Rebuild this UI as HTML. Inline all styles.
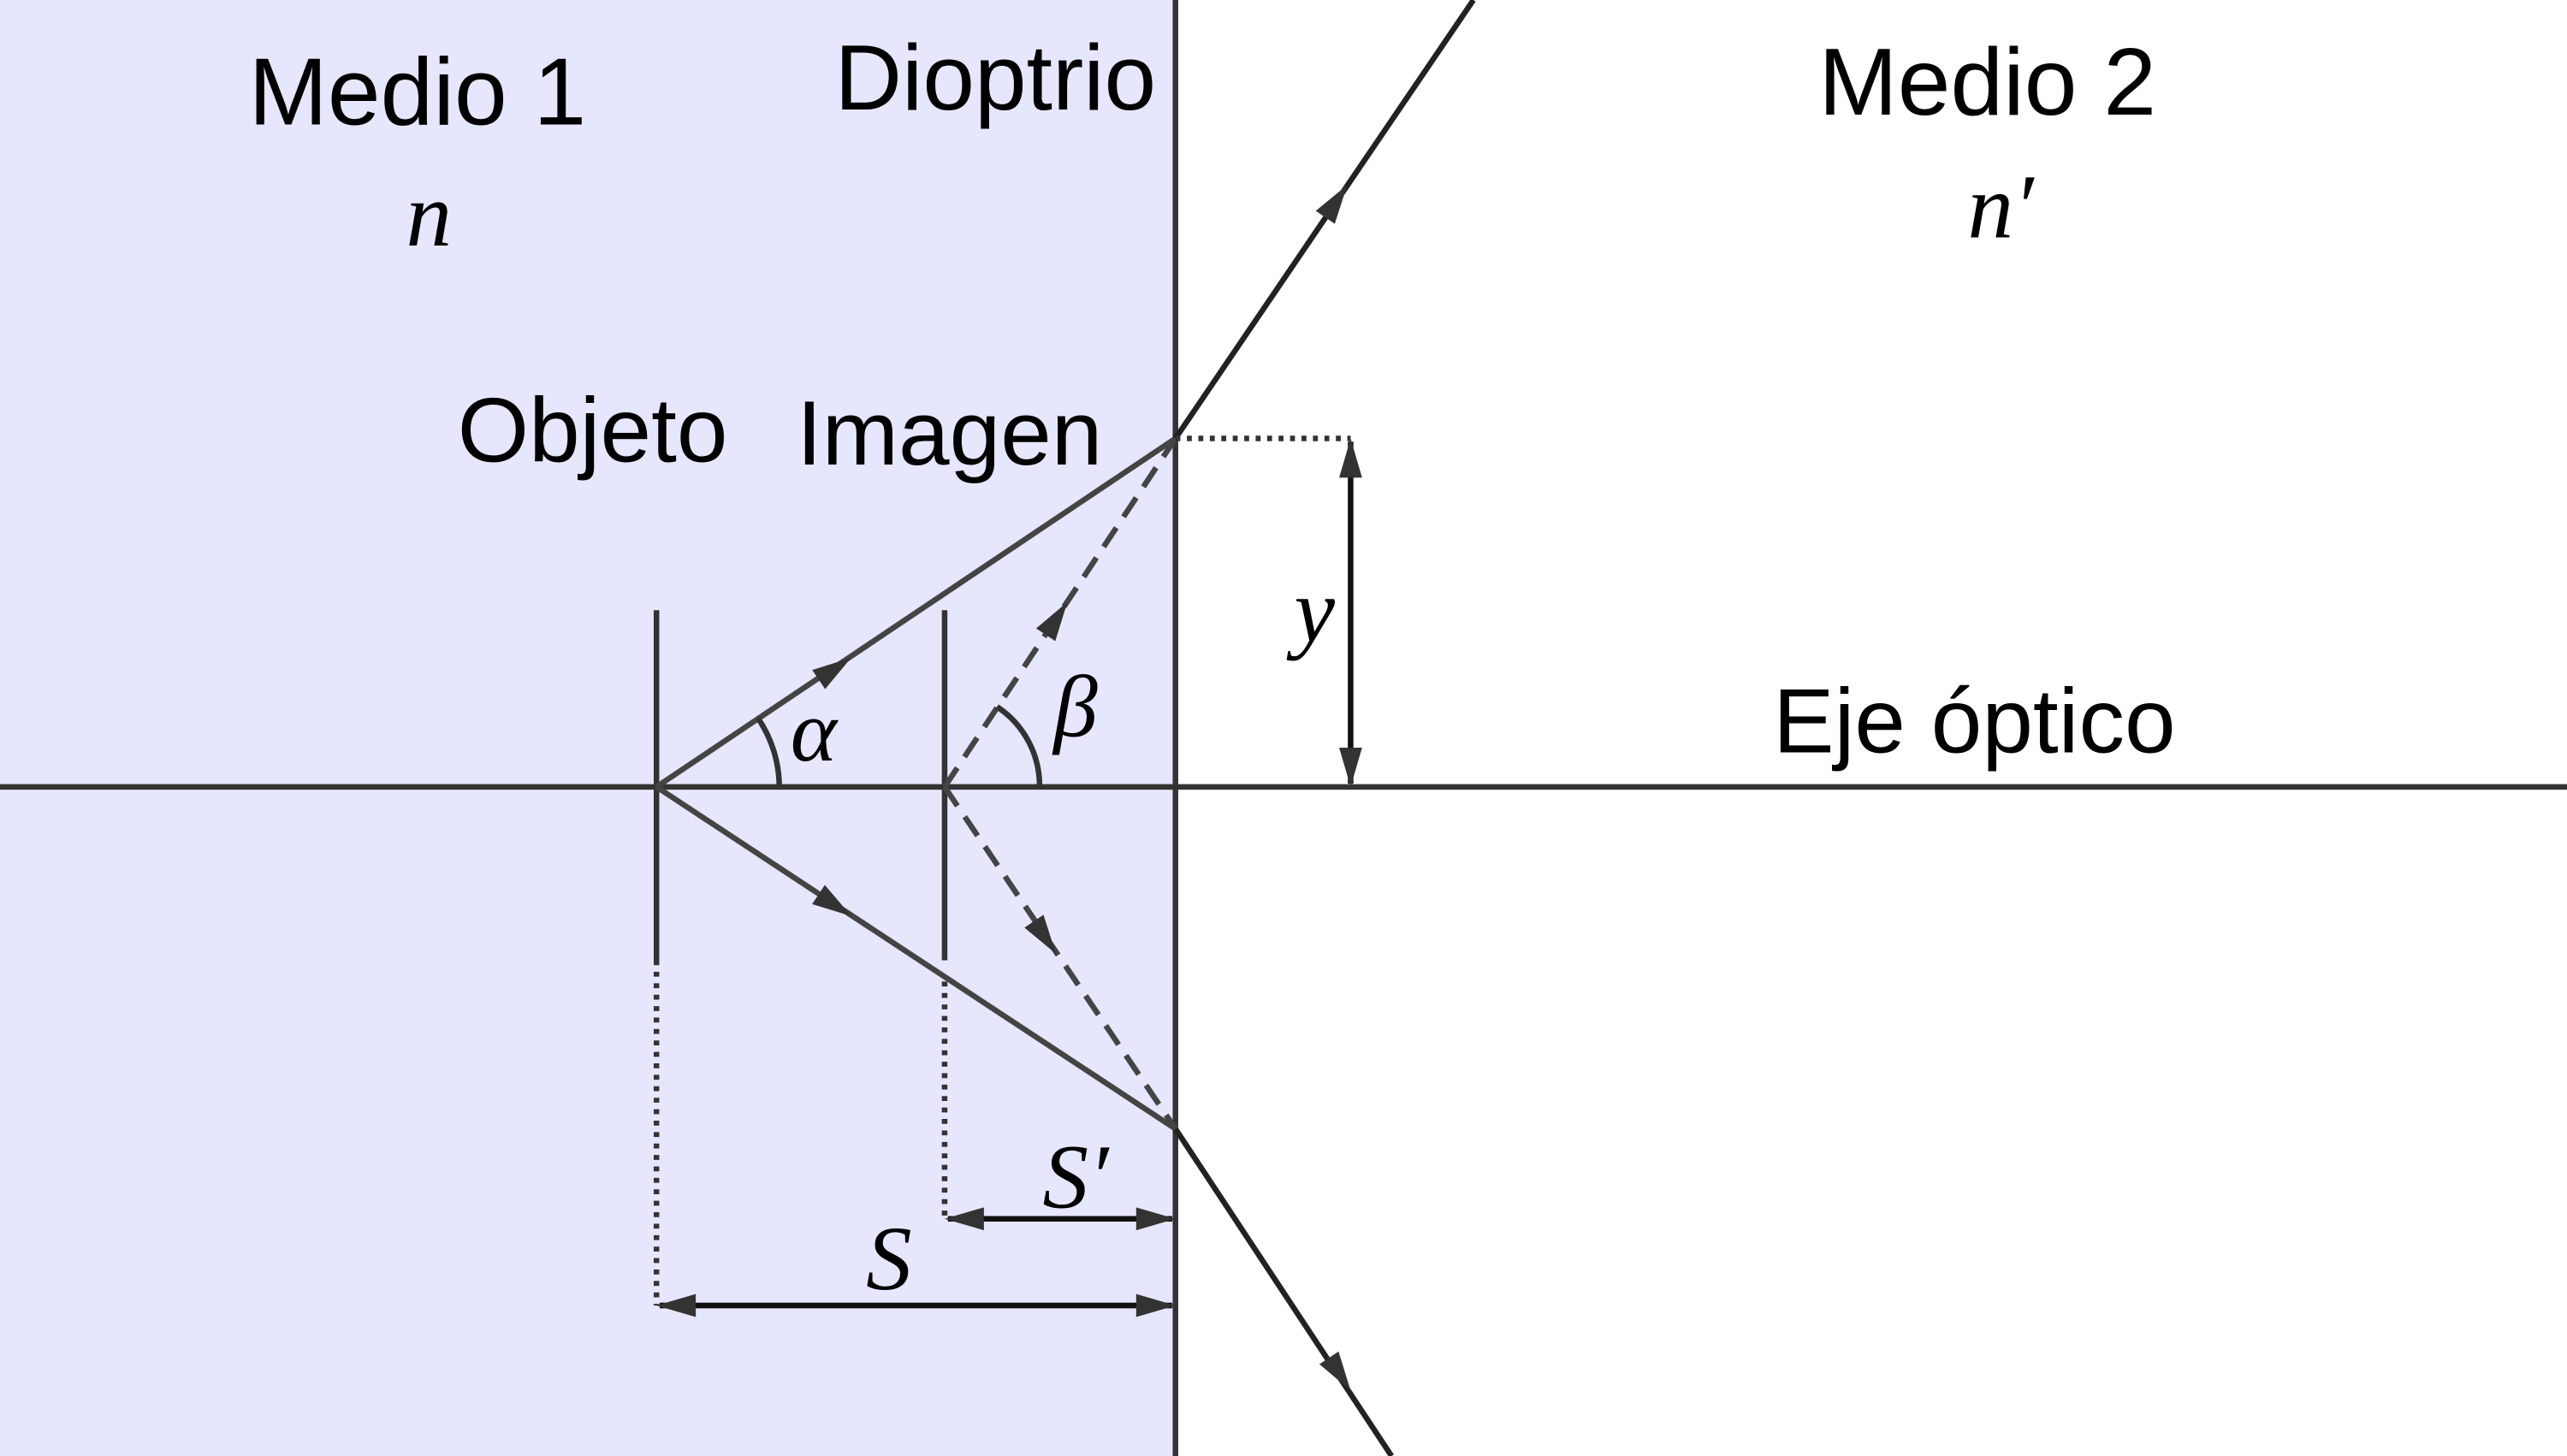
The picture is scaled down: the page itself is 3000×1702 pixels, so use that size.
<!DOCTYPE html>
<html><head><meta charset="utf-8"><style>
html,body{margin:0;padding:0;background:#fff;}
svg{display:block;}
text{font-family:"Liberation Sans",sans-serif;fill:#000;}
.m{font-family:"Liberation Serif",serif;font-style:italic;}
line,path{stroke-width:3.4;}
</style></head><body>
<svg id="fig" width="3000" height="1702" viewBox="0 0 1568 890" preserveAspectRatio="none" xmlns="http://www.w3.org/2000/svg">
<rect x="0" y="0" width="718" height="890" fill="#e6e6fc"/>
<line x1="0" y1="481" x2="1568" y2="481" stroke="#333"/>
<line x1="718" y1="0" x2="718" y2="890" stroke="#333"/>
<line x1="401" y1="373" x2="401" y2="587" stroke="#333"/>
<line x1="401" y1="587" x2="401" y2="798" stroke="#333" stroke-dasharray="3,4"/>
<line x1="577" y1="373" x2="577" y2="587" stroke="#333"/>
<line x1="577" y1="600" x2="577" y2="745" stroke="#333" stroke-dasharray="3,4"/>
<line x1="401" y1="481" x2="718" y2="268" stroke="#444"/>
<line x1="401" y1="481" x2="718" y2="690" stroke="#444"/>
<line x1="718" y1="268" x2="900" y2="0" stroke="#222"/>
<line x1="718" y1="690" x2="850" y2="890" stroke="#222"/>
<line x1="577" y1="481" x2="718" y2="268" stroke="#444" stroke-dasharray="14,8"/>
<line x1="577" y1="481" x2="718" y2="690" stroke="#444" stroke-dasharray="14,8"/>
<line x1="718" y1="268" x2="825" y2="268" stroke="#333" stroke-dasharray="3,4"/>
<line x1="825" y1="270" x2="825" y2="479" stroke="#111"/>
<line x1="579" y1="745" x2="716" y2="745" stroke="#111"/>
<line x1="403" y1="798" x2="716" y2="798" stroke="#111"/>
<path d="M476,481 A75,75 0 0 0 463,439" fill="none" stroke="#333"/>
<path d="M635,481 A58,58 0 0 0 609,432" fill="none" stroke="#333"/>
<g id="arrows"></g>
<text x="255" y="76" font-size="58" text-anchor="middle">Medio 1</text>
<text class="m" x="262" y="150" font-size="56" text-anchor="middle">n</text>
<text x="608" y="67" font-size="57" text-anchor="middle">Dioptrio</text>
<text x="1214" y="70" font-size="58" text-anchor="middle">Medio 2</text>
<text class="m" x="1222" y="145" font-size="56" text-anchor="middle">n′</text>
<text x="362" y="282" font-size="56" text-anchor="middle">Objeto</text>
<text x="580" y="284" font-size="56" text-anchor="middle">Imagen</text>
<text class="m" x="803" y="392" font-size="56" text-anchor="middle">y</text>
<text x="1206" y="460" font-size="56" text-anchor="middle">Eje óptico</text>
<text class="m" x="497" y="465" font-size="54" text-anchor="middle">α</text>
<text class="m" x="657" y="450" font-size="54" text-anchor="middle">β</text>
<text class="m" x="657" y="738" font-size="56" text-anchor="middle">S′</text>
<text class="m" x="543" y="788" font-size="56" text-anchor="middle">S</text>
</svg>
<script>
const g=document.getElementById('arrows');
function arrow(name,x,y,dx,dy){
  const L=Math.hypot(dx,dy),ux=dx/L,uy=dy/L,px=-uy,py=ux,len=24,w=7;
  const p=document.createElementNS('http://www.w3.org/2000/svg','polygon');
  p.setAttribute('points',[x,y,x-ux*len+px*w,y-uy*len+py*w,x-ux*len-px*w,y-uy*len-py*w].join(','));
  p.setAttribute('fill','#333');
  
  
  g.appendChild(p);
}
arrow('arrow-top-incident',520,402,317,-213);
arrow('arrow-bottom-incident',520,560,317,209);
arrow('arrow-top-refracted',823,113,182,-268);
arrow('arrow-bottom-refracted',825,850,132,200);
arrow('arrow-virtual-top',652,368,141,-213);
arrow('arrow-virtual-bottom',645,583,141,209);
arrow('arrow-y-top',825,268,0,-1);
arrow('arrow-y-bottom',825,481,0,1);
arrow('arrow-s-prime-left',577,745,-1,0);
arrow('arrow-s-prime-right',718,745,1,0);
arrow('arrow-s-left',401,798,-1,0);
arrow('arrow-s-right',718,798,1,0);
</script>
</body></html>
